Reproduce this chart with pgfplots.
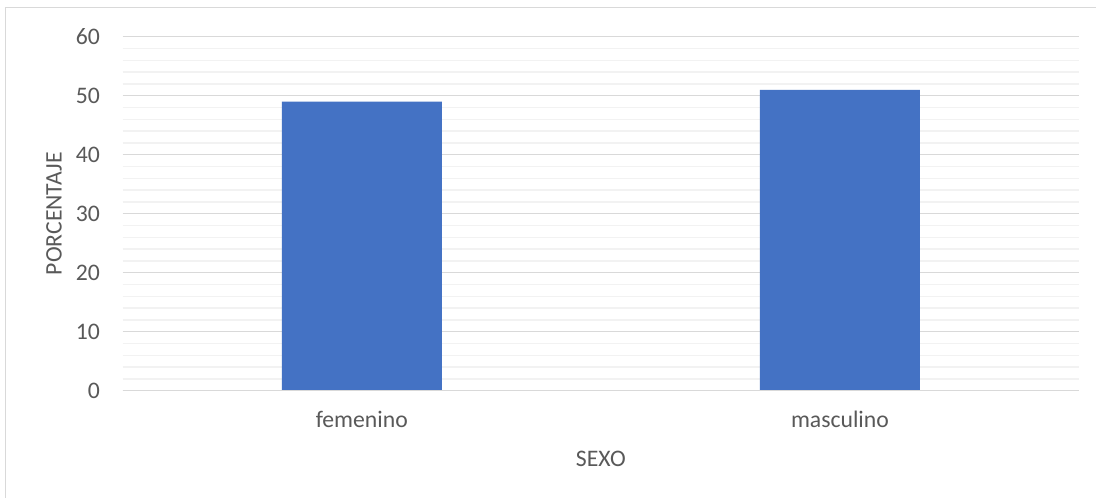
\documentclass[border=0pt]{standalone}
\usepackage{pgfplots}
\pgfplotsset{compat=1.18}
\usepackage{fontspec}
\setmainfont{Carlito}
\definecolor{txt}{HTML}{595959}
\definecolor{gridmaj}{HTML}{D9D9D9}
\definecolor{gridmin}{HTML}{F2F2F2}
\definecolor{barblue}{HTML}{4472C4}
\begin{document}
\begin{tikzpicture}
\useasboundingbox (-122.7bp,-107.3bp) rectangle (973.3bp,390.7bp);
\fill[white] (-122.7bp,-107.3bp) rectangle (973.3bp,390.7bp);
% chart frame
\draw[gridmaj, line width=1bp] (-117.2bp,-130bp) -- (-117.2bp,382.7bp) -- (1000bp,382.7bp);
\begin{axis}[
  at={(0,0)}, anchor=south west,
  scale only axis,
  width=956.3bp, height=354bp,
  font=\fontsize{23.7bp}{28bp}\selectfont,
  /pgf/number format/assume math mode=true,
  xmin=-0.5, xmax=1.5,
  ymin=0, ymax=60,
  xtick={0,1},
  xticklabels={femenino,masculino},
  ytick={0,10,...,60},
  minor y tick num=4,
  major tick length=0pt, minor tick length=0pt,
  ymajorgrids, yminorgrids,
  major grid style={gridmaj, line width=1.3bp},
  minor grid style={gridmin, line width=1.3bp},
  axis lines*=left,
  axis line style={draw=none},
  tick label style={text=txt},
  yticklabel style={anchor=east, inner sep=0pt, xshift=-22.7bp},
  xticklabel style={anchor=base, inner sep=0pt, yshift=-37bp},
  xlabel={SEXO},
  ylabel={PORCENTAJE},
  label style={text=txt},
  xlabel style={at={(axis description cs:0.5,0)}, anchor=base, inner sep=0pt, yshift=-76bp},
  ylabel style={at={(axis description cs:0,0.5)}, anchor=base, inner sep=0pt, yshift=61bp},
  clip=false,
]
\addplot[ybar, bar width=160bp, fill=barblue, draw=none] coordinates {(0,49) (1,51)};
\draw[gridmaj, line width=1.3bp] (axis cs:-0.5,0) -- (axis cs:1.5,0);
\end{axis}
\end{tikzpicture}
\end{document}
